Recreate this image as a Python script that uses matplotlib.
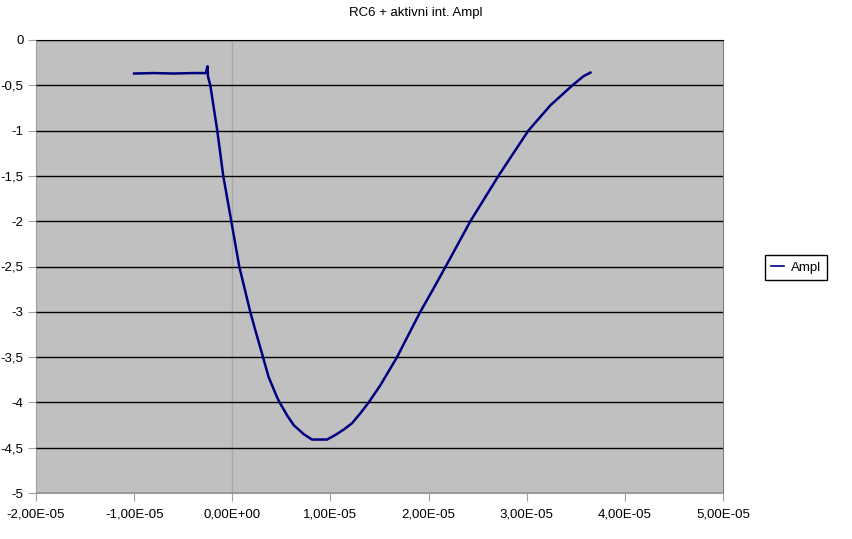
import matplotlib
matplotlib.use('Agg')
import matplotlib.pyplot as plt
from matplotlib.ticker import FuncFormatter, MultipleLocator

plt.rcParams['font.family'] = ['Liberation Sans', 'DejaVu Sans']

title = 'RC6 + aktivni int. Ampl'
series_name = 'Ampl'

# time [s] and amplitude
t = [-1.00e-5, -0.80e-5, -0.60e-5, -0.40e-5, -0.27e-5, -0.252e-5, -0.248e-5,
     -0.224e-5, -0.153e-5, -0.092e-5, -0.010e-5, 0.071e-5, 0.183e-5, 0.234e-5,
     0.313e-5, 0.370e-5, 0.455e-5, 0.482e-5, 0.557e-5, 0.625e-5, 0.727e-5,
     0.812e-5, 0.965e-5, 1.050e-5, 1.135e-5, 1.220e-5, 1.305e-5, 1.390e-5,
     1.509e-5, 1.679e-5, 1.797e-5, 1.916e-5, 2.052e-5, 2.205e-5, 2.426e-5,
     2.712e-5, 2.864e-5, 3.017e-5, 3.242e-5, 3.466e-5, 3.578e-5, 3.649e-5]
ampl = [-0.37, -0.365, -0.37, -0.365, -0.365, -0.29, -0.40,
        -0.50, -1.00, -1.50, -2.00, -2.50, -3.00, -3.20,
        -3.50, -3.72, -3.94, -4.00, -4.14, -4.25, -4.35,
        -4.41, -4.41, -4.36, -4.30, -4.23, -4.12, -4.00,
        -3.81, -3.50, -3.25, -3.00, -2.74, -2.44, -2.00,
        -1.50, -1.25, -1.00, -0.72, -0.50, -0.40, -0.36]

fig = plt.figure(figsize=(8.52, 5.39), dpi=100)
ax = fig.add_axes([36/852, 1 - 493/539, (723 - 36)/852, (493 - 40)/539])
ax.set_facecolor('#c0c0c0')

ax.axvline(0, color='#a8a8a8', lw=1.0, zorder=1)
ax.plot(t, ampl, color='#000080', lw=1.8, label=series_name, zorder=3,
        solid_joinstyle='round')

ax.set_xlim(-2e-5, 5e-5)
ax.set_ylim(-5, 0)
ax.xaxis.set_major_locator(MultipleLocator(1e-5))
ax.yaxis.set_major_locator(MultipleLocator(0.5))
ax.xaxis.set_major_formatter(FuncFormatter(lambda v, p: '{:.2E}'.format(v).replace('.', ',')))
ax.yaxis.set_major_formatter(FuncFormatter(lambda v, p: ('%g' % v).replace('.', ',')))
ax.yaxis.grid(True, color='black', lw=1.0, zorder=2)
ax.set_axisbelow(False)

for s in ['left', 'bottom']:
    ax.spines[s].set_color('#a0a0a0')
ax.spines['right'].set_color('#808080')
ax.spines['top'].set_color('black')
ax.tick_params(axis='both', colors='#a0a0a0', labelcolor='black', labelsize=9.5,
               length=6, direction='out')
ax.tick_params(axis='x', pad=5)
ax.tick_params(axis='y', pad=3)

fig.text(416/852, 1 - 13/539, title, ha='center', va='center', fontsize=9.5)

leg = ax.legend(loc='center left', bbox_to_anchor=(765/852, 1 - 267.5/539),
                bbox_transform=fig.transFigure, fontsize=9.5, frameon=True,
                fancybox=False, edgecolor='black', framealpha=1,
                handlelength=1.0, handletextpad=0.55, borderpad=0.45,
                borderaxespad=0)
leg.get_frame().set_linewidth(1.0)
for line in leg.get_lines():
    line.set_linewidth(1.2)

fig.savefig('out.png', dpi=100)
